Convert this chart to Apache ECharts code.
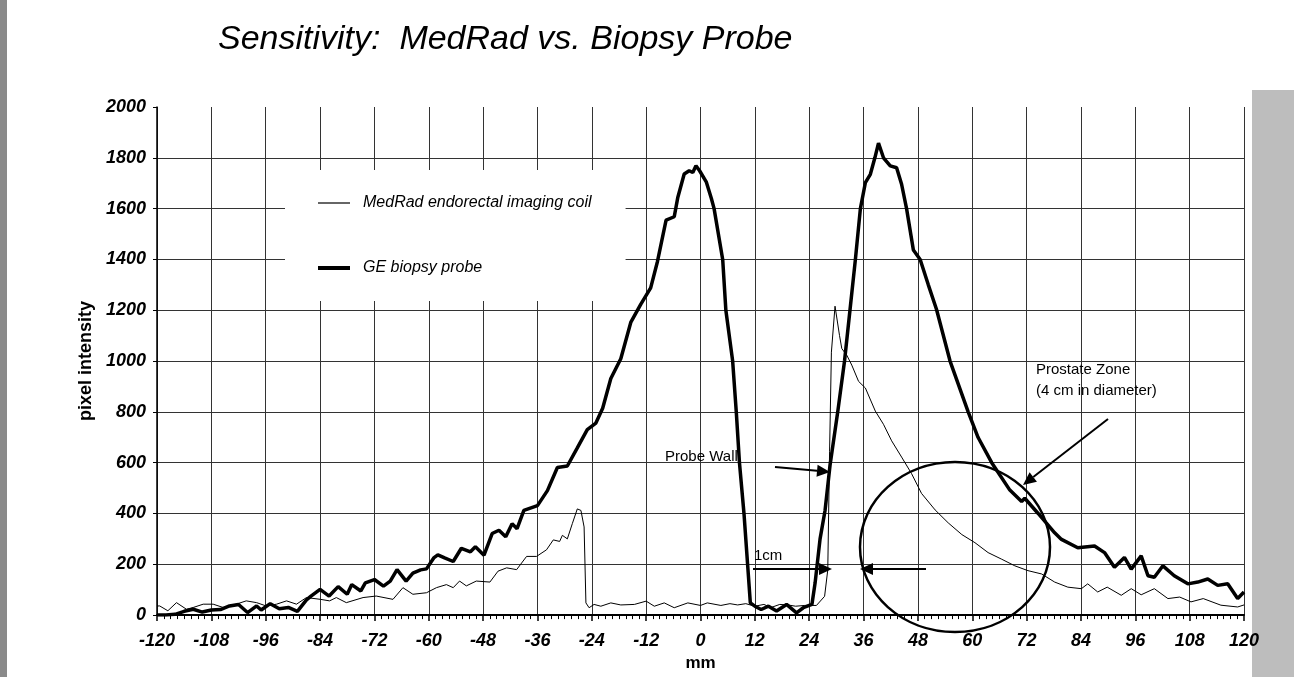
<!DOCTYPE html>
<html>
<head>
<meta charset="utf-8">
<script src="https://cdn.jsdelivr.net/npm/echarts@6/dist/echarts.min.js"></script>
<style>
  html, body { margin: 0; padding: 0; background: #fff; }
  #chart { width: 1294px; height: 677px; }
</style>
</head>
<body>
<div id="chart"></div>
<script>
// values, [mm, pixel intensity]
const seriesNames = ['MedRad endorectal imaging coil', 'GE biopsy probe'];

const medRad = [
  [-120, 36], [-119.4, 36], [-117.6, 17], [-115.7, 49], [-113.5, 23], [-112, 30], [-109.8, 43],
  [-107.6, 43], [-105.4, 30], [-102.5, 43], [-100.3, 56], [-98, 49], [-95.9, 36], [-93.6, 43],
  [-91.4, 56], [-89.2, 43], [-87, 69], [-83.9, 62], [-81.9, 56], [-80.4, 69], [-78.2, 49],
  [-74.5, 69], [-71.6, 75], [-67.9, 62], [-65.7, 108], [-63.5, 82], [-60.5, 88], [-58.3, 108],
  [-56.1, 120], [-54.6, 108], [-53.2, 134], [-51.7, 115], [-49.5, 134], [-46.5, 130], [-44.7, 173],
  [-42.8, 186], [-40.6, 179], [-38.4, 231], [-36.2, 231], [-34, 257], [-32.5, 296], [-31.1, 290],
  [-30.5, 314], [-29.4, 300], [-28.3, 360], [-27.2, 418], [-26.4, 412], [-25.7, 347], [-25.3, 48],
  [-24.6, 29], [-23.5, 42], [-22, 35], [-19.8, 48], [-17.6, 40], [-14.6, 42], [-12, 55], [-10.2, 35],
  [-8, 48], [-5.8, 29], [-2.8, 48], [0, 38], [1.5, 48], [4.5, 38], [6.5, 45], [8.2, 40], [10, 45],
  [12, 35], [14, 42], [15.6, 30], [17.5, 42], [19.3, 40], [21, 35], [23, 38], [25.6, 38], [27.4, 74],
  [28.1, 178], [28.5, 645], [28.9, 1035], [29.7, 1216], [30.7, 1100], [31.2, 1049], [32.3, 1023],
  [33.4, 984], [34.9, 920], [36.4, 894], [38.6, 803], [40.4, 751], [42.2, 686], [44.4, 622],
  [46.6, 557], [48.8, 479], [51.8, 414], [54.7, 363], [57.7, 317], [60.6, 285], [63.5, 246],
  [66.5, 220], [69.4, 194], [72.3, 175], [75.3, 162], [78.2, 130], [81.1, 110], [84.1, 104],
  [85.5, 123], [87.7, 91], [89.8, 110], [92.9, 78], [95.1, 104], [97.3, 80], [100.2, 104],
  [103.2, 65], [105.8, 71], [108.3, 52], [111, 65], [114.9, 39], [118.6, 32], [120, 40]
];

const geProbe = [
  [-120, 0], [-118, 0], [-116, 3], [-114, 15], [-112, 23], [-110, 12], [-108, 20], [-106, 22],
  [-104, 36], [-102, 42], [-100, 10], [-98, 36], [-97, 20], [-95, 45], [-93, 25], [-91, 30],
  [-89, 15], [-87, 60], [-86, 75], [-84, 101], [-82, 75], [-80, 112], [-78, 82], [-77, 120],
  [-75, 95], [-74, 127], [-72, 140], [-70, 114], [-68.5, 134], [-67, 179], [-65, 134], [-63.5, 165],
  [-61.8, 178], [-60.5, 182], [-58.9, 225], [-58, 237], [-56.5, 225], [-54.6, 211], [-52.8, 263],
  [-50.8, 249], [-49.7, 269], [-47.8, 236], [-46, 321], [-44.5, 334], [-43, 308], [-41.6, 360],
  [-40.5, 340], [-39, 412], [-36, 431], [-33.8, 490], [-31.6, 581], [-29.4, 587], [-27.2, 658],
  [-25, 730], [-23.1, 756], [-21.6, 814], [-19.8, 931], [-17.6, 1009], [-15.4, 1152], [-13.2, 1223],
  [-11, 1288], [-9.5, 1392], [-7.6, 1555], [-5.8, 1568], [-5, 1645], [-3.6, 1736], [-2.5, 1749],
  [-1.7, 1742], [-1, 1769], [-0.2, 1749], [1.3, 1704], [2.4, 1640], [3, 1600], [4.9, 1400],
  [5.6, 1200], [7.1, 1000], [7.9, 800], [8.6, 600], [9.6, 400], [10.4, 200], [11, 48], [12, 35],
  [13.4, 22], [15, 35], [16.8, 16], [19, 42], [21.2, 9], [22.7, 29], [24.6, 42], [25.3, 126],
  [26.4, 300], [27.5, 412], [28.6, 590], [30.3, 800], [31.8, 1000], [33, 1200], [34.2, 1400],
  [35.3, 1600], [36.4, 1702], [37.5, 1735], [38.5, 1800], [39.3, 1858], [39.5, 1865], [40.4, 1800],
  [41.9, 1768], [43.3, 1761], [44.4, 1696], [45.5, 1600], [47, 1437], [48.5, 1400], [50.3, 1300],
  [52.1, 1204], [55.1, 1000], [59.1, 800], [61.3, 699], [64.3, 600], [68.3, 492], [70.9, 447],
  [71.6, 460], [74.5, 401], [78.2, 324], [79.7, 298], [83.3, 265], [87, 272], [89.2, 246],
  [91.4, 188], [93.6, 227], [95.1, 181], [97.3, 233], [98.8, 155], [100.2, 149], [102.1, 194],
  [104.6, 155], [107.6, 123], [109.8, 130], [112, 142], [114.2, 117], [116.4, 123], [118.6, 65],
  [120, 91]
];

const FONT = '"Liberation Sans", Arial, sans-serif';

// small helper for the hand-drawn annotation arrows
function arrow(x1, y1, x2, y2) {
  const a = Math.atan2(y2 - y1, x2 - x1);
  const len = 13, w = 6;
  const bx = x2 - len * Math.cos(a), by = y2 - len * Math.sin(a);
  return [
    { type: 'line', shape: { x1: x1, y1: y1, x2: bx, y2: by }, style: { stroke: '#000', lineWidth: 2 }, z: 10 },
    {
      type: 'polygon',
      shape: {
        points: [
          [x2, y2],
          [bx + w * Math.sin(a), by - w * Math.cos(a)],
          [bx - w * Math.sin(a), by + w * Math.cos(a)]
        ]
      },
      style: { fill: '#000' },
      z: 10
    }
  ];
}

const chart = echarts.init(document.getElementById('chart'));

const option = {
  backgroundColor: '#fff',
  animation: false,
  title: {
    text: 'Sensitivity:  MedRad vs. Biopsy Probe',
    left: 213,
    top: 18,
    textStyle: { fontFamily: FONT, fontSize: 34, fontStyle: 'italic', fontWeight: 'normal', color: '#000' }
  },
  legend: {
    data: [
      { name: seriesNames[0], icon: 'path://M0,0H32V1.2H0Z' },
      { name: seriesNames[1], icon: 'path://M0,0H32V4H0Z' }
    ],
    orient: 'vertical',
    left: 285,
    top: 170,
    padding: [25, 34, 25, 33],
    itemGap: 49,
    itemWidth: 32,
    itemHeight: 14,
    backgroundColor: '#fff',
    itemStyle: { color: '#000' },
    textStyle: { fontFamily: FONT, fontSize: 16, fontStyle: 'italic', color: '#000', padding: [0, 0, 0, 8] }
  },
  grid: { left: 157, right: 50, top: 107, bottom: 57 },
  xAxis: {
    type: 'value',
    min: -120,
    max: 120,
    interval: 12,
    name: 'mm',
    nameLocation: 'middle',
    nameGap: 33,
    nameTextStyle: { fontFamily: FONT, fontSize: 17, fontWeight: 'bold', color: '#000' },
    axisLine: { show: true, onZero: false, lineStyle: { color: '#000', width: 2 } },
    axisTick: { show: true, length: 6, lineStyle: { color: '#000', width: 1.5 } },
    minorTick: { show: true, splitNumber: 8, length: 4, lineStyle: { color: '#000' } },
    axisLabel: {
      margin: 17,
      fontFamily: FONT, fontSize: 18, fontStyle: 'italic', fontWeight: 'bold', color: '#000'
    },
    splitLine: { show: true, lineStyle: { color: '#333', width: 1 } }
  },
  yAxis: {
    type: 'value',
    min: 0,
    max: 2000,
    interval: 200,
    name: 'pixel intensity',
    nameLocation: 'middle',
    nameGap: 59,
    nameTextStyle: { fontFamily: FONT, fontSize: 18, fontWeight: 'bold', color: '#000' },
    axisLine: { show: true, onZero: false, lineStyle: { color: '#000', width: 1.5 } },
    axisTick: { show: true, length: 4, lineStyle: { color: '#000' } },
    axisLabel: {
      margin: 11,
      formatter: function (v) { return String(v); },
      fontFamily: FONT, fontSize: 18, fontStyle: 'italic', fontWeight: 'bold', color: '#000'
    },
    splitLine: { show: true, showMaxLine: false, lineStyle: { color: '#333', width: 1 } }
  },
  series: [
    {
      name: seriesNames[0],
      type: 'line',
      data: medRad,
      symbol: 'none',
      lineStyle: { color: '#000', width: 1 },
      itemStyle: { color: '#000' },
      z: 3
    },
    {
      name: seriesNames[1],
      type: 'line',
      data: geProbe,
      symbol: 'none',
      lineStyle: { color: '#000', width: 3.5 },
      itemStyle: { color: '#000' },
      z: 4
    }
  ],
  graphic: [
    // scan edges
    { type: 'rect', shape: { x: 0, y: 0, width: 7, height: 677 }, style: { fill: '#8a8a8a' }, z: -10 },
    { type: 'rect', shape: { x: 1252, y: 90, width: 42, height: 587 }, style: { fill: '#bdbdbd' }, z: -10 },
    // annotations
    {
      type: 'text', left: 665, top: 449,
      style: { text: 'Probe Wall', fill: '#000', font: '15px ' + FONT }, z: 10
    },
    ...arrow(775, 467, 830, 472),
    {
      type: 'text', left: 754, top: 548,
      style: { text: '1cm', fill: '#000', font: '15px ' + FONT }, z: 10
    },
    ...arrow(753, 569, 832, 569),
    ...arrow(926, 569, 860, 569),
    {
      type: 'ellipse', shape: { cx: 955, cy: 547, rx: 95, ry: 85 },
      style: { fill: 'none', stroke: '#000', lineWidth: 2.5 }, z: 10
    },
    {
      type: 'text', left: 1036, top: 359,
      style: { text: 'Prostate Zone\n(4 cm in diameter)', fill: '#000', font: '15px ' + FONT, lineHeight: 21 }, z: 10
    },
    ...arrow(1108, 419, 1023, 485)
  ]
};

chart.setOption(option);
</script>
</body>
</html>
